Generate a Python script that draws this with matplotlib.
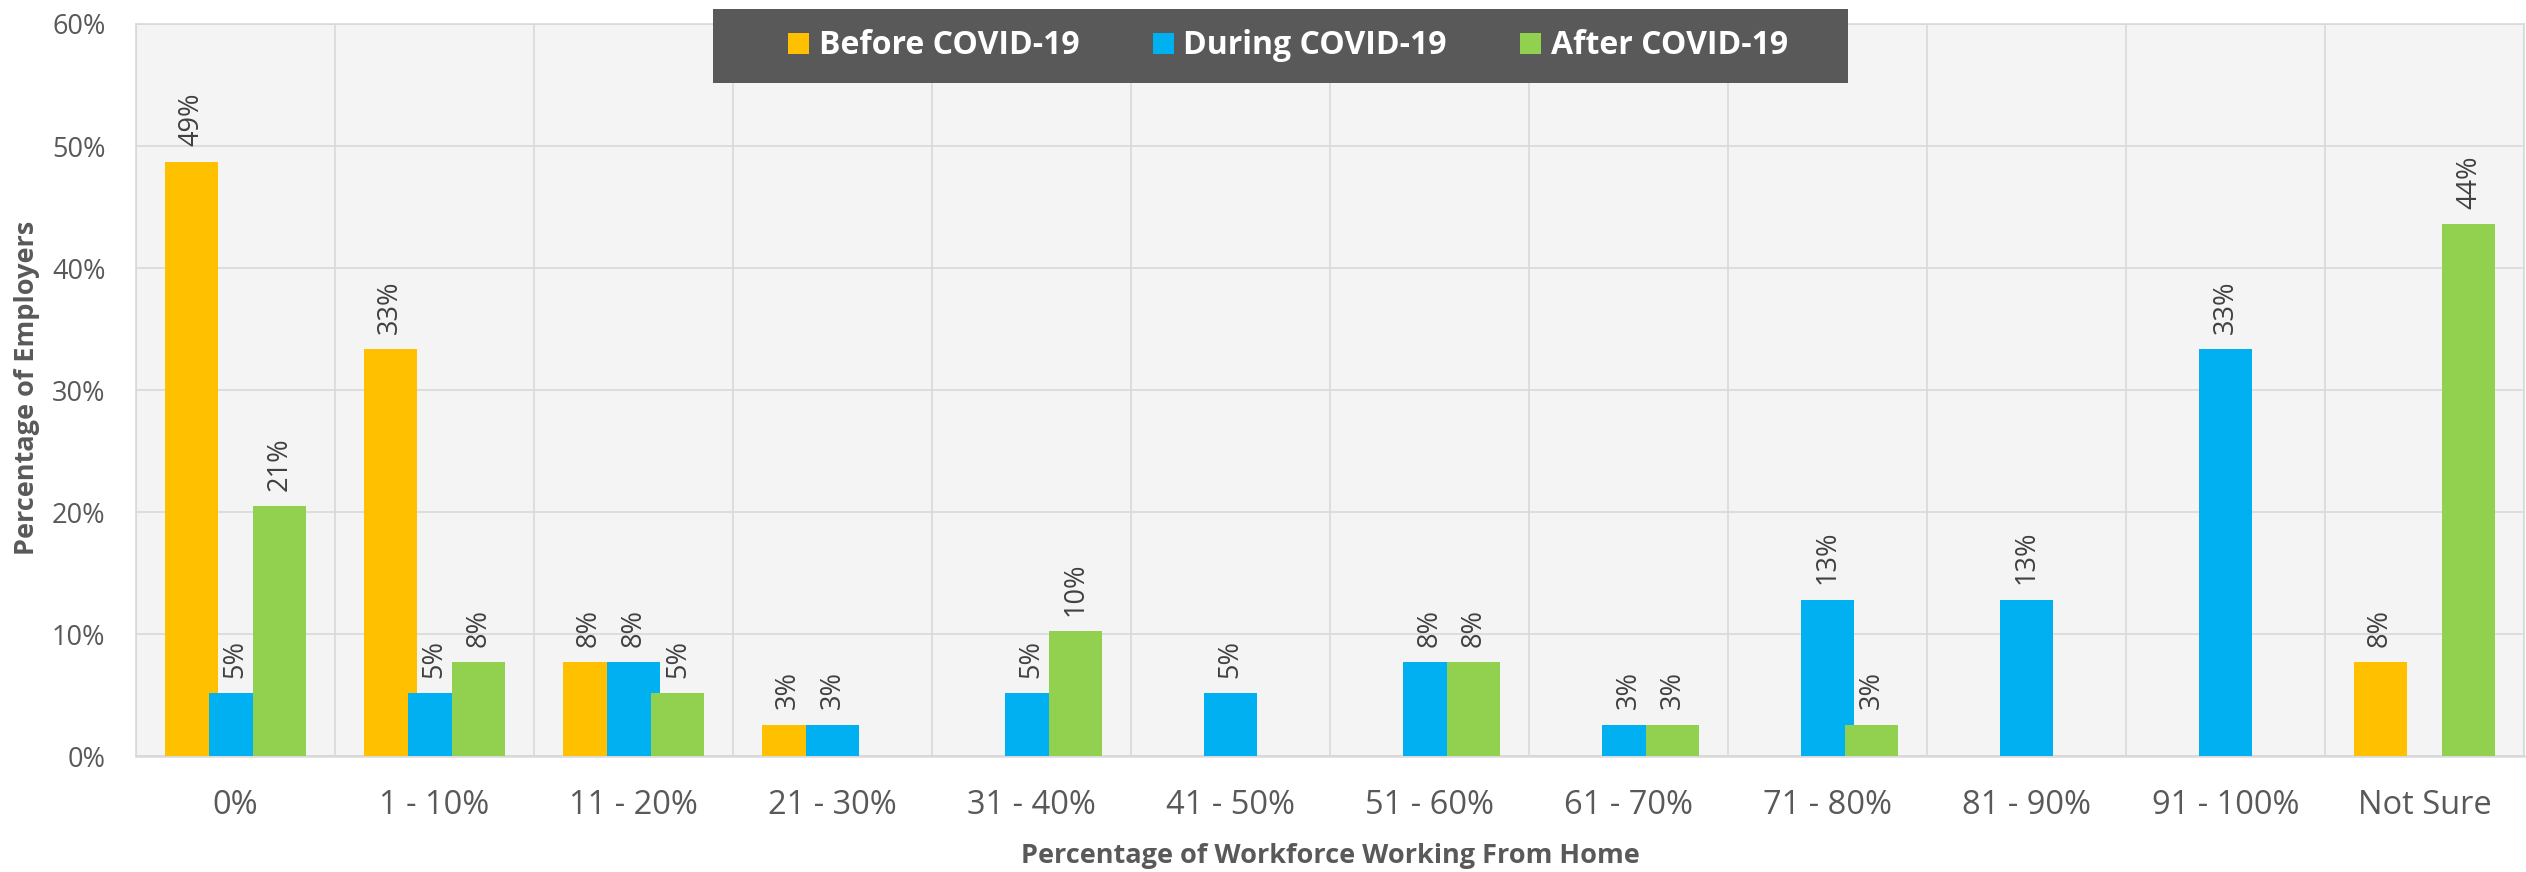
import numpy as np
import matplotlib
matplotlib.use('Agg')
import matplotlib.pyplot as plt
from matplotlib.patches import Rectangle
from matplotlib.ticker import FuncFormatter

categories = ['0%', '1 - 10%', '11 - 20%', '21 - 30%', '31 - 40%', '41 - 50%',
              '51 - 60%', '61 - 70%', '71 - 80%', '81 - 90%', '91 - 100%', 'Not Sure']
before = [48.72, 33.33, 7.69, 2.56, 0, 0, 0, 0, 0, 0, 0, 7.69]
during = [5.13, 5.13, 7.69, 2.56, 5.13, 5.13, 7.69, 2.56, 12.82, 12.82, 33.33, 0]
after = [20.51, 7.69, 5.13, 0, 10.26, 0, 7.69, 2.56, 2.56, 0, 0, 43.59]
series_names = ['Before COVID-19', 'During COVID-19', 'After COVID-19']
y_ticks = [0, 10, 20, 30, 40, 50, 60]

colors = ['#FFC000', '#00B0F0', '#92D050']
W, H = 2526, 872

plt.rcParams['font.family'] = ['Open Sans', 'DejaVu Sans']

fig = plt.figure(figsize=(W / 100, H / 100), dpi=100)
fig.patch.set_facecolor('white')
ax = fig.add_axes([136 / W, 1 - 756 / H, (2524 - 136) / W, (756 - 24) / H])
ax.set_facecolor('#F4F4F4')

x = np.arange(len(categories))
width = 0.267
step = 0.223

bars = []
for i, (vals, c, name) in enumerate(zip([before, during, after], colors, series_names)):
    b = ax.bar(x + (i - 1) * step, vals, width, color=c, label=name, zorder=3 + i)
    bars.append(b)
    for xi, v in zip(x, vals):
        if v > 0:
            ax.annotate(f'{v:.0f}%', (xi + (i - 1) * step, v), xytext=(0, 11),
                        textcoords='offset points', rotation=90, ha='center', va='bottom',
                        fontsize=19.5, color='#404040', zorder=10)

ax.set_xlim(-0.5, len(categories) - 0.5)
ax.set_ylim(0, 60)
ax.set_yticks(y_ticks)
ax.yaxis.set_major_formatter(FuncFormatter(lambda v, p: f'{v:.0f}%'))
ax.set_xticks(x)
ax.set_xticklabels(categories)
ax.set_xticks(np.arange(-0.5, len(categories), 1), minor=True)
ax.tick_params(axis='y', length=0, pad=22, labelsize=19.5, labelcolor='#595959')
ax.tick_params(axis='x', which='both', length=0, pad=24, labelsize=23.5, labelcolor='#595959')

ax.grid(axis='y', color='#D9D9D9', linewidth=1.2, zorder=0)
ax.grid(axis='x', which='minor', color='#D9D9D9', linewidth=1.2, zorder=0)
ax.set_axisbelow(True)
for s in ax.spines.values():
    s.set_color('#D9D9D9')
    s.set_linewidth(1.2)
ax.spines['bottom'].set_linewidth(1.8)

fig.text(27 / W, 1 - 388 / H, 'Percentage of Employers', rotation=90, ha='center', va='center',
         fontsize=19.5, fontweight='bold', color='#595959')
fig.text(1330 / W, 1 - 863 / H, 'Percentage of Workforce Working From Home', ha='center',
         va='baseline', fontsize=19.5, fontweight='bold', color='#595959')

# dark legend box on top of the plot area
fig.add_artist(Rectangle((713 / W, 1 - 83 / H), (1848 - 713) / W, 74 / H,
                         transform=fig.transFigure, facecolor='#595959', edgecolor='none', zorder=5))
leg = fig.legend(handles=bars, labels=series_names, loc='center left',
                 bbox_to_anchor=(788 / W, 1 - 46 / H), bbox_transform=fig.transFigure,
                 ncol=3, frameon=False, borderpad=0, borderaxespad=0,
                 handlelength=0.66, handleheight=0.66, handletextpad=0.3, columnspacing=2.3,
                 prop={'size': 23, 'weight': 'bold'})
leg.set_zorder(6)
for t in leg.get_texts():
    t.set_color('white')

fig.savefig('out.png', dpi=100, facecolor='white')
